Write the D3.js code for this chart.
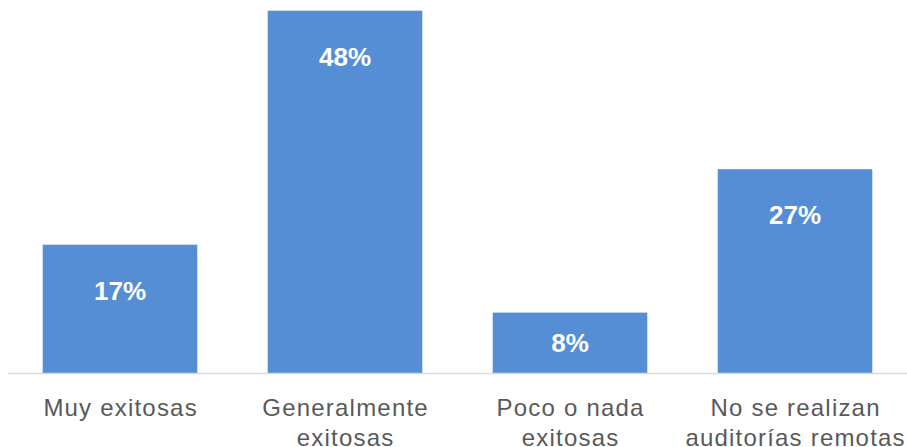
<!DOCTYPE html>
<html>
<head>
<meta charset="utf-8">
<script src="https://cdn.jsdelivr.net/npm/d3@7"></script>
<style>
  html, body { margin: 0; padding: 0; background: #ffffff; }
  svg { display: block; }
</style>
</head>
<body>
<div id="chart"></div>
<script>
// Evaluation of remote audits: share of respondents per answer
const categories = [
  ["Muy exitosas"],
  ["Generalmente", "exitosas"],
  ["Poco o nada", "exitosas"],
  ["No se realizan", "auditorías remotas"]
];
const values = [17, 48, 8, 27];
const valueLabels = ["17%", "48%", "8%", "27%"];

const width = 907, height = 447;
const baseY = 373;

const svg = d3.select("#chart").append("svg")
  .attr("width", width)
  .attr("height", height);

const x = d3.scaleBand()
  .domain(d3.range(categories.length))
  .range([7.5, 907.5])
  .paddingInner(0.313)
  .paddingOuter(0.1565);

const y = d3.scaleLinear()
  .domain([0, 50])
  .range([baseY, -4.4]);

// bars
svg.append("g")
  .selectAll("rect")
  .data(values)
  .join("rect")
  .attr("x", (d, i) => x(i))
  .attr("y", d => y(d))
  .attr("width", x.bandwidth())
  .attr("height", d => baseY - y(d))
  .attr("fill", "#558ed5");

// category axis
const xAxis = svg.append("g")
  .attr("transform", `translate(0,${baseY})`)
  .call(d3.axisBottom(x).tickSize(0).tickFormat(""));
xAxis.select(".domain").remove();
svg.append("line")
  .attr("x1", 8).attr("x2", width)
  .attr("y1", baseY + 0.5).attr("y2", baseY + 0.5)
  .attr("stroke", "#d9d9d9")
  .attr("stroke-width", 1.5);

xAxis.selectAll(".tick").each(function(i) {
  const t = d3.select(this).append("text")
    .attr("fill", "#595959")
    .attr("text-anchor", "middle")
    .style("font-family", "'Liberation Sans', Arial, sans-serif")
    .style("font-size", "24px")
    .style("letter-spacing", "1.2px");
  categories[i].forEach((line, k) => {
    t.append("tspan")
      .attr("x", 0.6)
      .attr("y", 43 + k * 30)
      .text(line);
  });
});

// value labels inside the bars
svg.append("g")
  .selectAll("text")
  .data(values)
  .join("text")
  .attr("x", (d, i) => x(i) + x.bandwidth() / 2)
  .attr("y", d => Math.min(y(d) + 55, (y(d) + baseY) / 2 + 9))
  .attr("text-anchor", "middle")
  .attr("fill", "#ffffff")
  .style("font-family", "'Liberation Sans', Arial, sans-serif")
  .style("font-weight", "bold")
  .style("font-size", "26px")
  .text((d, i) => valueLabels[i]);
</script>
</body>
</html>
